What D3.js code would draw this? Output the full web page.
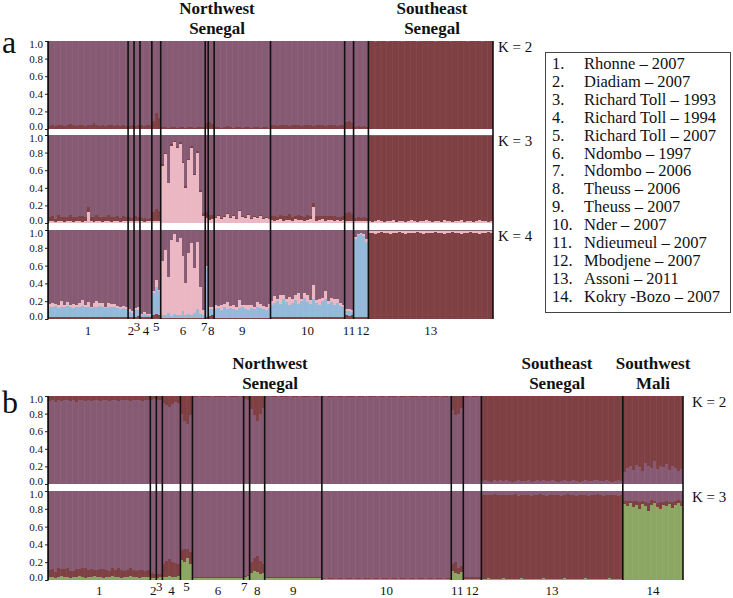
<!DOCTYPE html>
<html><head><meta charset="utf-8">
<script src="https://cdn.jsdelivr.net/npm/d3@7"></script>
<style>
html,body{margin:0;padding:0;background:#fff;}
svg{display:block;}
svg text{font-family:"Liberation Serif","Tinos","Times New Roman","DejaVu Serif","Noto Serif",serif;}
</style></head>
<body>
<svg id="chart" width="733" height="598"></svg>
<script>
// ---------- DATA ----------
const popLabelsA = ["1","2","3","4","5","6","7","8","9","10","11","12","13"];
const popLabelsB = ["1","2","3","4","5","6","7","8","9","10","11","12","13","14"];
const raisedLabels = ["3","5","7"];
const legendNames = ["Rhonne – 2007","Diadiam – 2007","Richard Toll – 1993","Richard Toll – 1994","Richard Toll – 2007","Ndombo – 1997","Ndombo – 2006","Theuss – 2006","Theuss – 2007","Nder – 2007","Ndieumeul – 2007","Mbodjene – 2007","Assoni – 2011","Kokry -Bozo – 2007"];
const tickValues = [0,0.2,0.4,0.6,0.8,1.0];

// Panel a, K=2 : dark-red cluster (%), bottom; remainder purple
const aK2_dark = [
 [3,4,3,5,4,3,4,6,4,3,5,4,3,4,5,7,4,3,4,3,5,4,3,4,3,4,3],
 [3,4],[3,5],[4,3,5,4],[9,18,12],
 [2,2,1,2,2,1,2,2,1,2,2,1,2,2,2],
 [7],[8,6],
 [2,2,1,2,3,2,1,2,2,1,2,2,1,2,2,1,2,2,1],
 [4,5,3,4,5,4,3,4,5,4,3,4,5,4,3,4,4,5,3,4,5,4,3,4,4],
 [8,9,7],[2,3,2,3,2],
 [100,100,99,100,100,100,99,100,100,100,100,99,100,100,100,100,99,100,100,100,100,100,99,100,100,100,100,99,100,100,100,100,100,99,100,100,100,100,99,100,100,100]
];
// Panel a, K=3 : pink (bottom), dark-red, remainder purple
const aK3_pink = [
 [2,2,1,2,2,1,2,2,1,2,2,1,2,12,2,1,2,2,1,2,2,1,2,2,1,2,2],
 [2,2],[2,2],[2,1,2,2],[2,2,2],
 [65,78,45,88,92,85,90,68,40,72,85,55,80,35,8],
 [6],[3,4],
 [6,8,5,7,10,6,8,5,14,7,6,9,5,7,6,8,5,6,4],
 [3,2,3,4,2,3,3,2,4,3,3,2,3,4,18,2,3,4,2,3,3,2,3,2,3],
 [2,2,2],[2,2,2,2,2],
 [2,1,2,3,2,1,2,2,3,1,2,2,1,2,3,2,1,2,2,3,2,1,2,2,1,3,2,2,1,2,2,3,1,2,2,1,2,3,2,2,1,2]
];
const aK3_dark = [
 [5,6,4,7,5,6,5,7,6,5,6,7,5,6,5,6,7,5,6,5,7,6,5,6,5,6,5],
 [5,4],[6,5],[4,5,3,4],[10,14,12],
 [2,2,1,2,1,1,2,1,2,1,2,1,2,2,3],
 [7],[6,5],
 [1,1,1,1,1,1,1,1,1,1,1,1,1,1,1,1,1,1,1],
 [5,6,4,5,6,5,7,5,4,6,5,5,6,4,5,6,5,4,6,5,5,6,4,5,5],
 [9,11,8],[4,5,4,5,4],
 [97,98,97,96,97,98,97,97,96,98,97,97,98,97,96,97,98,97,97,96,97,98,97,97,98,96,97,97,98,97,97,96,98,97,97,98,97,96,97,97,98,97]
];
// Panel a, K=4 : dark-red (bottom), blue, pink, remainder purple
const aK4_dark = [
 [2,2,2,2,2,2,2,2,2,2,2,2,2,2,2,2,2,2,2,2,2,2,2,2,2,2,2],
 [2,2],[2,3],[2,2,2,2],[5,6,5],
 [1,1,1,1,1,1,1,1,1,1,1,1,1,1,1],
 [2],[3,4],
 [1,1,1,1,1,1,1,1,1,1,1,1,1,1,1,1,1,1,1],
 [2,2,2,2,2,2,2,2,2,2,2,2,2,2,2,2,2,2,2,2,2,2,2,2,2],
 [4,3,4],[2,2,2,2,2],
 [97,97,96,97,98,97,97,96,97,97,98,97,96,97,97,97,98,97,96,97,97,97,98,97,97,96,97,97,98,97,97,96,97,97,98,97,97,96,97,97,98,97]
];
const aK4_blue = [
 [12,11,13,10,12,11,13,12,10,11,12,13,11,12,10,12,11,13,12,10,11,12,11,10,9,10,9],
 [6,5],[8,7],[3,4,3,3],[24,30,26],
 [4,3,6,2,5,3,4,8,3,5,4,6,10,5,3],
 [55],[8,7],
 [10,11,9,12,10,11,10,9,11,12,10,9,11,10,12,11,10,9,11],
 [14,16,18,15,20,17,14,16,19,15,18,22,17,15,20,16,14,18,21,15,17,14,16,13,12],
 [5,6,4],[88,92,93,91,85],
 [0,0,0,0,0,0,0,0,0,0,0,0,0,0,0,0,0,0,0,0,0,0,0,0,0,0,0,0,0,0,0,0,0,0,0,0,0,0,0,0,0,0]
];
const aK4_pink = [
 [3,5,2,4,6,3,4,2,5,3,4,6,3,5,2,4,7,3,4,2,5,3,4,3,2,3,2],
 [3,2],[2,3],[1,2,1,1],[3,8,2],
 [60,74,40,86,90,82,86,62,36,68,80,50,75,30,6],
 [2],[2,3],
 [5,3,6,4,8,3,5,4,9,3,5,6,4,3,6,5,4,3,5],
 [4,8,3,10,5,3,9,4,6,12,3,5,8,4,16,3,6,4,9,3,5,7,4,3,2],
 [2,2,2],[2,1,2,2,3],
 [2,2,3,2,1,2,2,3,2,2,1,2,3,2,2,2,1,2,3,2,2,2,1,2,2,3,2,2,1,2,2,3,2,2,1,2,2,3,2,2,1,2]
];
// Panel b, K=2 : purple (bottom), remainder dark-red
const bK2_purple = [
 [94,95,93,95,94,96,95,94,95,93,95,96,94,95,94,95,96,94,95,95,94,96,95,94,95,96,95,94,95,96,95,94,95,96],
 [96,97],[95,96],[92,90,88,91,93,92],[80,72,68,78],
 [99,99,100,99,99,99,100,99,99,99,99,100,99,99,99,100,99],
 [97,96],[85,78,72,80,86],
 [99,100,99,99,100,99,99,99,100,99,99,100,99,99,99,100,99,99,100],
 [99,100,99,99,100,99,99,100,99,99,99,100,99,99,100,99,99,99,100,99,99,100,99,99,99,100,99,99,100,99,99,99,100,99,99,100,99,99,99,100,99,99,100],
 [84,78,80,86],[99,99,100,99,99,100],
 [3,4,3,2,4,3,5,3,4,3,2,3,4,3,3,4,2,3,4,3,5,3,3,4,3,2,3,4,3,3,4,3,2,3,4,3,3,5,4,3,3,4,3,2,3,4,3],
 [14,18,20,16,22,19,15,24,20,18,26,17,21,19,23,16,20,18,15,17]
];
// Panel b, K=3 : green (bottom), dark-red, remainder purple
const bK3_green = [
 [3,3,2,3,4,3,3,2,3,3,4,3,2,3,3,4,3,3,2,3,3,4,3,3,2,3,3,4,3,3,2,3,3,3],
 [2,2],[2,3],[3,3,4,3,3,4],[22,20,25,18],
 [2,2,2,2,2,2,2,2,2,2,2,2,2,2,2,2,2],
 [3,4],[8,10,9,7,8],
 [2,2,2,2,2,2,2,2,2,2,2,2,2,2,2,2,2,2,2],
 [1,1,1,1,1,1,1,1,1,1,1,1,1,1,1,1,1,1,1,1,1,1,1,1,1,1,1,1,1,1,1,1,1,1,1,1,1,1,1,1,1,1,1],
 [10,8,7,9],[1,1,1,1,1,1],
 [1,1,2,1,1,1,1,2,1,1,1,1,1,2,1,1,1,1,1,1,2,1,1,1,1,1,1,2,1,1,1,1,1,1,2,1,1,1,1,1,1,1,2,1,1,1,1],
 [85,83,86,82,84,80,85,83,78,84,86,82,80,84,83,85,81,84,86,83]
];
const bK3_dark = [
 [8,9,7,10,8,9,11,8,7,9,8,10,12,8,9,7,8,9,10,8,7,9,8,10,9,7,8,9,8,7,9,8,7,8],
 [6,5],[5,4],[15,18,20,17,16,14],[12,15,10,14],
 [1,1,1,1,1,1,1,1,1,1,1,1,1,1,1,1,1],
 [2,2],[12,15,18,14,10],
 [1,1,1,1,1,1,1,1,1,1,1,1,1,1,1,1,1,1,1],
 [1,0,1,1,0,1,1,0,1,1,0,1,1,0,1,1,0,1,1,0,1,1,0,1,1,0,1,1,0,1,1,0,1,1,0,1,1,0,1,1,0,1,1],
 [8,12,6,7],[2,2,2,2,2,2],
 [94,95,93,94,96,94,95,93,94,95,94,96,93,94,95,94,93,95,94,96,94,93,95,94,94,95,93,94,96,94,95,93,94,95,94,93,95,94,96,94,93,95,94,94,95,93,94],
 [4,6,3,7,5,8,4,5,9,6,3,5,8,4,6,3,7,5,4,6]
];

// ---------- STYLE ----------
const FONT = '"Liberation Serif","Tinos","Times New Roman","DejaVu Serif","Noto Serif",serif';
const C = {purple:"#875a74", dark:"#7e4043", pink:"#ebb7c3", blue:"#95b9d9", green:"#8ba763"};

const svg = d3.select("#chart");

function drawPanel(cfg){
  const counts = cfg.layers[0][0].vals.map(a=>a.length);
  const N = d3.sum(counts);
  const x = d3.scaleBand().domain(d3.range(N)).range([cfg.x0, cfg.x1]).padding(0);
  const starts = [0]; counts.forEach((c,i)=>starts.push(starts[i]+c));
  const g = svg.append("g");

  cfg.rows.forEach((row, ri)=>{
    const y = d3.scaleLinear().domain([0,1]).range([row.bottom, row.top]);
    const layers = cfg.layers[ri];
    const flats = layers.map(l=>l.vals.flat());
    const bars = [];
    for(let i=0;i<N;i++){
      let cum = 0;
      flats.forEach((f,li)=>{
        const v = f[i]/100;
        bars.push({i, y0:cum, y1:Math.min(1,cum+v), color:layers[li].color});
        cum += v;
      });
      if(cum<1) bars.push({i, y0:cum, y1:1, color:row.rest});
    }
    g.append("g").selectAll("rect").data(bars.filter(b=>b.y1>b.y0)).join("rect")
      .attr("x", d=>x(d.i))
      .attr("width", x.bandwidth()+0.4)
      .attr("y", d=>y(d.y1))
      .attr("height", d=>Math.max(0, y(d.y0)-y(d.y1)))
      .attr("fill", d=>d.color)
      .attr("shape-rendering","crispEdges");
    g.append("g").selectAll("line").data(d3.range(0,N,2)).join("line")
      .attr("x1", d=>x(d)+0.5).attr("x2", d=>x(d)+0.5)
      .attr("y1", row.top).attr("y2", row.bottom)
      .attr("stroke","#fff").attr("stroke-opacity",0.05);

    const ax = g.append("g").attr("transform",`translate(${cfg.x0},0)`)
      .call(d3.axisLeft(y).tickValues(tickValues).tickFormat(d3.format(".1f")).tickSize(3).tickSizeOuter(0));
    ax.attr("font-family", FONT).attr("font-size", 11);
    ax.select(".domain").attr("stroke","#222");
    ax.selectAll("line").attr("stroke","#222");
    ax.selectAll("text").attr("font-family",FONT).attr("font-size",11).attr("fill","#111").attr("dx",1)
      .attr("dy", d=> d===0 ? "0.0em" : (d===1 ? "0.62em" : "0.32em"));

    g.append("text").attr("x", cfg.kx).attr("y", row.top+11).attr("font-family",FONT)
      .attr("font-size",15).attr("fill","#111").text(row.k);
  });

  const top = cfg.rows[0].top, bottom = cfg.rows[cfg.rows.length-1].bottom;
  g.append("g").selectAll("line").data(starts).join("line")
    .attr("x1", d=> d<N ? x(d) : cfg.x1).attr("x2", d=> d<N ? x(d) : cfg.x1)
    .attr("y1", top).attr("y2", bottom)
    .attr("stroke","#111").attr("stroke-width",1.6);

  g.append("g").selectAll("text").data(cfg.pops).join("text")
    .attr("x", (d,i)=> (x(starts[i]) + (starts[i+1]<N ? x(starts[i+1]) : cfg.x1))/2 + (d==="7" ? -2.5 : (d==="12" && cfg.letter==="a" ? 2 : 0)))
    .attr("y", d=> cfg.labelY - (raisedLabels.includes(d)?4:0))
    .attr("text-anchor","middle").attr("font-family",FONT).attr("font-size",13).attr("fill","#111").text(d=>d);

  g.append("text").attr("x",2).attr("y",cfg.letterY).attr("font-family",FONT)
    .attr("font-size",32).attr("fill","#111").text(cfg.letter);

  cfg.headers.forEach(h=>{
    const t = g.append("text").attr("text-anchor","middle").attr("font-family",FONT)
      .attr("font-weight","bold").attr("font-size",17).attr("fill","#111");
    h.lines.forEach((ln,j)=> t.append("tspan").attr("x",h.x).attr("y",h.y + j*20).text(ln));
  });
}

drawPanel({
  letter:"a", letterY:53, x0:48, x1:493, kx:498, labelY:335,
  pops: popLabelsA,
  rows:[
    {top:41,bottom:129,k:"K = 2",rest:C.purple},
    {top:135,bottom:223,k:"K = 3",rest:C.purple},
    {top:230,bottom:319,k:"K = 4",rest:C.purple}
  ],
  layers:[
    [{vals:aK2_dark,color:C.dark}],
    [{vals:aK3_pink,color:C.pink},{vals:aK3_dark,color:C.dark}],
    [{vals:aK4_dark,color:C.dark},{vals:aK4_blue,color:C.blue},{vals:aK4_pink,color:C.pink}]
  ],
  headers:[
    {x:217,y:14,lines:["Northwest","Senegal"]},
    {x:432,y:14,lines:["Southeast","Senegal"]}
  ]
});

drawPanel({
  letter:"b", letterY:413, x0:48, x1:683, kx:692, labelY:595,
  pops: popLabelsB,
  rows:[
    {top:396,bottom:484,k:"K = 2",rest:C.dark},
    {top:491,bottom:580,k:"K = 3",rest:C.purple}
  ],
  layers:[
    [{vals:bK2_purple,color:C.purple}],
    [{vals:bK3_green,color:C.green},{vals:bK3_dark,color:C.dark}]
  ],
  headers:[
    {x:270,y:369,lines:["Northwest","Senegal"]},
    {x:557,y:369,lines:["Southeast","Senegal"]},
    {x:653,y:369,lines:["Southwest","Mali"]}
  ]
});

const lg = svg.append("g");
lg.append("rect").attr("x",545.5).attr("y",52.5).attr("width",185).attr("height",260)
  .attr("fill","#fff").attr("stroke","#444").attr("stroke-width",1);
lg.selectAll("g.item").data(legendNames).join("g").attr("class","item")
  .each(function(d,i){
    const it = d3.select(this);
    const yy = 69 + i*17.9;
    it.append("text").attr("x",552).attr("y",yy).attr("font-family",FONT).attr("font-size",16.5).attr("fill","#111").text((i+1)+".");
    it.append("text").attr("x",584).attr("y",yy).attr("font-family",FONT).attr("font-size",16.5).attr("fill","#111").text(d);
  });
</script>
</body></html>
